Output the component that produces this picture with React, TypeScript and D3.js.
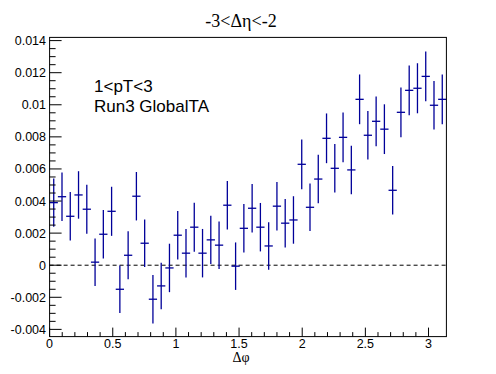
import React from "react";
import * as d3 from "d3";

const title = "-3<Δη<-2";
const xTitle = "Δφ";
const labelLines = ["1<pT<3", "Run3 GlobalTA"];
const nBins = 48;
const xMin = 0;
const xMax = Math.PI;
const yMin = -0.00445;
const yMax = 0.0142;
const xTickValues = [0, 0.5, 1, 1.5, 2, 2.5, 3];
const yTickValues = [-0.004, -0.002, 0, 0.002, 0.004, 0.006, 0.008, 0.01, 0.012, 0.014];

const values = [
  0.0039, 0.00427, 0.00305, 0.00438, 0.00349, 0.00019, 0.00193, 0.00336,
  -0.0015, 0.00062, 0.0043, 0.00137, -0.00212, -0.00129, -0.00017, 0.00187,
  0.00075, 0.00237, 0.00075, 0.00158, 0.00125, 0.00374, -0.00006, 0.0023,
  0.00355, 0.00237, 0.0012, 0.00368, 0.00262, 0.00282, 0.00629, 0.00361,
  0.00537, 0.00791, 0.00604, 0.00797, 0.00594, 0.01034, 0.0081, 0.00897,
  0.00848, 0.00467, 0.00953, 0.0109, 0.01103, 0.01177, 0.00997, 0.01034,
];
const errors = [
  0.00151, 0.00151, 0.00151, 0.00148, 0.00153, 0.00148, 0.00151, 0.00153,
  0.00148, 0.0015, 0.00151, 0.00148, 0.00151, 0.00145, 0.00151, 0.00151,
  0.00151, 0.00153, 0.00151, 0.0015, 0.00148, 0.00151, 0.00148, 0.00151,
  0.00151, 0.00151, 0.00148, 0.00151, 0.00151, 0.00148, 0.00155, 0.00148,
  0.00151, 0.00155, 0.00151, 0.00155, 0.00151, 0.00155, 0.00151, 0.00155,
  0.00155, 0.00151, 0.00155, 0.00155, 0.00156, 0.00155, 0.00151, 0.00155,
];

const W = 496;
const H = 374;
const L = 49.6, R = 446.4, T = 37.4, B = 336.6;
const COLOR = "#000099";
const SANS = "'Liberation Sans', Arial, Helvetica, sans-serif";
const SERIF = "'Liberation Serif', 'DejaVu Serif', serif";

export default function App() {
  const x = d3.scaleLinear().domain([xMin, xMax]).range([L, R]);
  const y = d3.scaleLinear().domain([yMin, yMax]).range([B, T]);
  const bw = (xMax - xMin) / nBins;

  const xMinor = d3.range(0, 31).map((i) => i * 0.1).filter((v) => v <= xMax);
  const yMinor = d3.range(-8, 29).map((i) => i * 0.0005).filter((v) => v >= yMin && v <= yMax);

  return (
    <svg width={W} height={H} style={{ position: "absolute", left: 0, top: 0, background: "#fff" }}>
      <rect x={0} y={0} width={W} height={H} fill="#fff" />
      <line x1={L} x2={R} y1={y(0)} y2={y(0)} stroke="#000" strokeWidth={1} strokeDasharray="4,3" />
      <g stroke={COLOR} strokeWidth={1.3}>
        {values.map((v, i) => {
          const x0 = x(xMin + i * bw);
          const x1 = x(xMin + (i + 1) * bw);
          const xc = x(xMin + (i + 0.5) * bw);
          return (
            <g key={i}>
              <line x1={x0} x2={x1} y1={y(v)} y2={y(v)} />
              <line x1={xc} x2={xc} y1={y(v + errors[i])} y2={y(v - errors[i])} />
            </g>
          );
        })}
      </g>
      <rect x={L} y={T} width={R - L} height={B - T} fill="none" stroke="#000" strokeWidth={1} />
      <g stroke="#000" strokeWidth={1}>
        {xMinor.map((v, i) => {
          const major = Math.abs(v * 2 - Math.round(v * 2)) < 1e-6;
          return <line key={i} x1={x(v)} x2={x(v)} y1={B} y2={B - (major ? 9 : 4.5)} />;
        })}
        {yMinor.map((v, i) => {
          const major = Math.abs(v / 0.002 - Math.round(v / 0.002)) < 1e-6;
          return <line key={i} x1={L} x2={L + (major ? 12 : 6)} y1={y(v)} y2={y(v)} />;
        })}
      </g>
      <g fontFamily={SANS} fontSize={12.5} fill="#000">
        {xTickValues.map((v) => (
          <text key={v} x={x(v)} y={348} textAnchor="middle">{String(v)}</text>
        ))}
        {yTickValues.map((v) => (
          <text key={v} x={46} y={y(v) + 4.5} textAnchor="end">{String(+v.toFixed(3))}</text>
        ))}
      </g>
      <text x={241} y={362} textAnchor="middle" fontFamily={SERIF} fontSize={14}>{xTitle}</text>
      <text x={241} y={26.5} textAnchor="middle" fontFamily={SERIF} fontSize={18}>{title}</text>
      <g fontFamily={SANS} fontSize={17} fill="#000">
        <text x={94} y={92}>{labelLines[0]}</text>
        <text x={94} y={112}>{labelLines[1]}</text>
      </g>
    </svg>
  );
}
